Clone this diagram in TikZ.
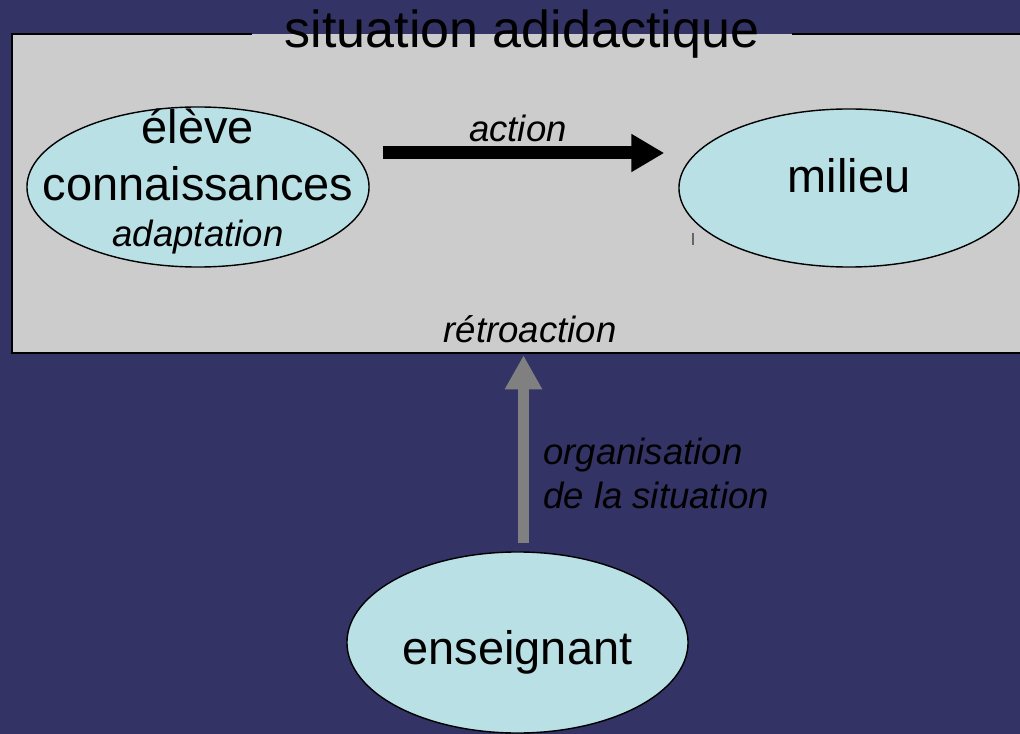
\documentclass[tikz,border=0pt]{standalone}
\usepackage{fontspec}
\setmainfont{Liberation Sans}
\usetikzlibrary{shapes.geometric,arrows.meta}

\definecolor{fond}{RGB}{51,51,102}
\definecolor{gris}{RGB}{204,204,204}
\definecolor{cyanclair}{RGB}{185,224,228}
\definecolor{grisfleche}{RGB}{128,128,128}

\begin{document}
\begin{tikzpicture}[x=0.025cm,y=-0.025cm,
  bulle/.style={ellipse,draw,line width=1pt,fill=cyanclair,inner sep=0pt,align=center,
    font=\fontsize{33.4}{40.5}\selectfont},
  petit/.style={font=\fontsize{26}{31.3}\selectfont\itshape,inner sep=0pt},
  fleche noire/.style={line width=9.25pt,-{Triangle[length=0.825cm,width=0.9cm]}},
  fleche grise/.style={grisfleche,line width=8.5pt,-{Triangle[length=0.85cm,width=0.875cm]}}]

\useasboundingbox (0,0) rectangle (1020,734);
\fill[fond] (0,0) rectangle (1020,734);

\node[fill=gris,inner sep=0pt,minimum width=25.45cm,minimum height=7.975cm] (cadre) at (521,193.5) {};

\node[anchor=base,inner xsep=23pt,font=\fontsize{37}{44}\selectfont] (titre) at (522,48) {situation adidactique};

\draw[line width=1.4pt] (titre.west |- cadre.north) -- (cadre.north west) -- (cadre.south west) -- (cadre.south east);
\draw[line width=1.4pt] (titre.east |- cadre.north) -- (cadre.north east);

\node[bulle,minimum width=8.55cm,minimum height=4cm] (eleve) at (198,187) {};

\node[anchor=base,align=center,inner sep=0pt,font=\fontsize{33.4}{40.5}\selectfont] (eleve texte) at (198,247)
  {élève\\connaissances\\[-7.1pt]{\fontsize{26}{31.3}\selectfont\itshape adaptation}};

\node[bulle,minimum width=8.5cm,minimum height=3.95cm,text height=24pt,text depth=16.9pt] (milieu) at (849,188) {milieu};

\node[bulle,minimum width=8.525cm,minimum height=4.525cm,text height=34pt,text depth=3.4pt] (enseignant) at (517.5,642.5) {enseignant};

\node[petit,anchor=base] (action) at (518,142) {action};

\node[petit,anchor=base] (retroaction) at (530,343) {rétroaction};

\node[petit,anchor=north west,align=left] (organisation) at (543,438) {organisation\\de la situation};

\draw[fleche noire] ([shift={(13,-34)}]eleve.east) -- ([shift={(-14,-35)}]milieu.west);

\coordinate (depart) at ([shift={(6,-8)}]enseignant.north);
\draw[fleche grise] (depart) -- ([yshift=-1.4pt]depart |- cadre.south);

\draw[black!60,line width=0.8pt] (693,233) -- (693,245);

\end{tikzpicture}
\end{document}
